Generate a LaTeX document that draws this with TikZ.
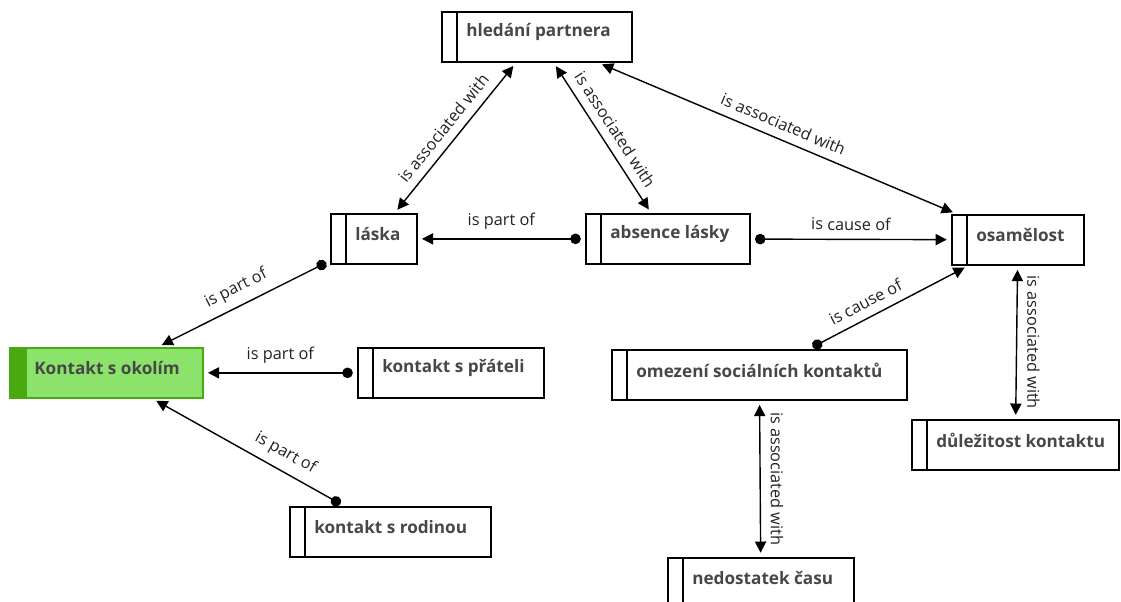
\documentclass[tikz,border=0pt]{standalone}
\usepackage{fontspec}
\setmainfont{Open Sans}
\usetikzlibrary{arrows.meta}

\definecolor{nodegray}{HTML}{474747}
\definecolor{lblack}{HTML}{222222}
\definecolor{lightgreen}{HTML}{8CE36B}
\definecolor{darkgreen}{HTML}{4AA90F}

\tikzset{
	concept/.style = {draw, line width=1.2pt, rectangle, inner sep=0pt, anchor=north west, minimum height=1.25cm,
		path picture={\draw[line width=1.2pt] ([xshift=0.375cm]path picture bounding box.north west) -- ([xshift=0.375cm]path picture bounding box.south west);}},
	root/.style = {concept, fill=lightgreen, draw=darkgreen,
		path picture={\fill[darkgreen] (path picture bounding box.north west) rectangle ([xshift=0.42cm]path picture bounding box.south west);}},
	ctext/.style = {anchor=west, xshift=0.625cm, yshift=0.12cm, inner sep=0pt, font=\fontsize{12.2}{14}\selectfont\bfseries, text=nodegray},
	rel/.style = {line width=1pt, shorten <=3pt, shorten >=3pt},
	assoc/.style = {rel, {Triangle[length=8pt,width=8pt]}-{Triangle[length=8pt,width=8pt]}},
	part/.style = {rel, {Circle[length=7.5pt]}-{Triangle[length=8pt,width=8pt]}},
	lbl/.style = {font=\fontsize{11.6}{13}\selectfont, text=lblack, inner sep=1pt, sloped, above=5pt},
	vlbl/.style = {font=\fontsize{11.6}{13}\selectfont, text=lblack, inner sep=1pt, midway, xshift=12pt, rotate=-90}
}

\begin{document}
\begin{tikzpicture}[x=0.025cm, y=-0.025cm]
	\useasboundingbox (0,0) rectangle (1121,602);

	% concepts
	\node[concept, minimum width=4.75cm, label={[ctext]west:hledání partnera}] (hled) at (441,11) {};
	\node[concept, minimum width=2.15cm, label={[ctext]west:láska}] (laska) at (330,213) {};
	\node[concept, minimum width=4.1cm, label={[ctext]west:absence lásky}] (abs) at (585,213) {};
	\node[concept, minimum width=3.3cm, label={[ctext]west:osamělost}] (osam) at (951,214) {};
	\node[root, minimum width=4.825cm, label={[ctext]west:Kontakt s okolím}] (okoli) at (9,347) {};
	\node[concept, minimum width=4.65cm, label={[ctext]west:kontakt s přáteli}] (prat) at (357,347) {};
	\node[concept, minimum width=7.375cm, label={[ctext]west:omezení sociálních kontaktů}] (omez) at (611,349) {};
	\node[concept, minimum width=5.175cm, label={[ctext]west:důležitost kontaktu}] (dule) at (911,419) {};
	\node[concept, minimum width=5.025cm, label={[ctext]west:kontakt s rodinou}] (rod) at (289,506) {};
	\node[concept, minimum width=4.65cm, label={[ctext]west:nedostatek času}] (ned) at (667,557) {};

	% relations
	\draw[part] (abs) -- node[lbl]{is part of} (laska);
	\draw[part] (abs) -- node[lbl]{is cause of} (osam);
	\draw[assoc] (laska) -- node[lbl]{is associated with} (hled);
	\draw[assoc] (hled) -- node[lbl]{is associated with} (abs);
	\draw[assoc] (hled) -- node[lbl]{is associated with} (osam);
	\draw[part] (laska) -- node[lbl]{is part of} (okoli);
	\draw[part] (prat) -- node[lbl]{is part of} (okoli);
	\draw[part] (rod) -- node[lbl, pos=0.35]{is part of} (okoli);
	\draw[part] (omez) -- node[lbl, pos=0.4]{is cause of} (osam);
	\draw[assoc] (omez) -- node[vlbl]{is associated with} (ned);
	\draw[assoc] (osam) -- node[vlbl]{is associated with} (dule);
\end{tikzpicture}
\end{document}
